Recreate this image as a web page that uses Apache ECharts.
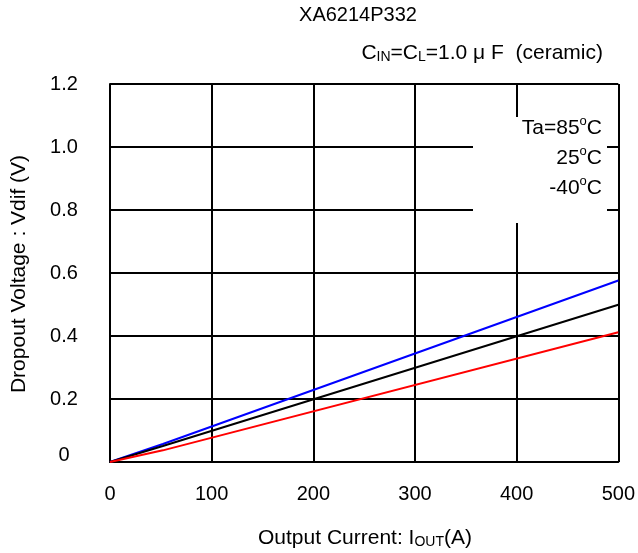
<!DOCTYPE html>
<html><head><meta charset="utf-8">
<script src="https://cdn.jsdelivr.net/npm/echarts@6/dist/echarts.min.js"></script>
<style>html,body{margin:0;padding:0;background:#fff}#c{width:638px;height:553px}</style>
</head><body><div id="c"></div>
<script>
const xTicks = [0, 100, 200, 300, 400, 500];
const yTicks = [0, 0.2, 0.4, 0.6, 0.8, 1.0, 1.2];
const currentPts = [0, 52, 500];
const v85 = [0, 0.057, 0.576];
const v25 = [0, 0.051, 0.499];
const vm40 = [0, 0.037, 0.412];
const legendRows = [['Ta=85', 'C'], ['25', 'C'], ['-40', 'C']];

const FONT = '"Liberation Sans", Arial, sans-serif';
const FS = 20;
const chart = echarts.init(document.getElementById('c'));
const mk = arr => currentPts.map((x, i) => [x, arr[i]]);

const rich = {
  n: {fontSize: 21, fontFamily: FONT, color: '#000', lineHeight: 24, verticalAlign: 'bottom'},
  s: {fontSize: 13, fontFamily: FONT, color: '#000', lineHeight: 24, verticalAlign: 'top', padding: [0, 0, 8, 0]},
  b: {fontSize: 14, fontFamily: FONT, color: '#000', lineHeight: 17, verticalAlign: 'bottom'}
};

const graphics = [
  {type: 'rect', shape: {x: 473, y: 117, width: 134, height: 106}, style: {fill: '#fff'}, z: 10},
  {type: 'text', x: 358, y: 15, z: 20, style: {text: 'XA6214P332', font: FS + 'px ' + FONT, fill: '#000', align: 'center', verticalAlign: 'middle'}},
  {type: 'text', x: 603, y: 52, z: 20, style: {text: '{n|C}{b|IN}{n|=C}{b|L}{n|=1.0 \u03bc F  (ceramic)}', rich: rich, align: 'right', verticalAlign: 'middle'}},
  {type: 'text', x: 365, y: 537, z: 20, style: {text: '{n|Output Current: I}{b|OUT}{n|(A)}', rich: rich, align: 'center', verticalAlign: 'middle'}},
  {type: 'text', x: 19, y: 274, rotation: Math.PI / 2, z: 20, style: {text: 'Dropout Voltage : Vdif (V)', font: (FS + 1) + 'px ' + FONT, fill: '#000', align: 'center', verticalAlign: 'middle'}}
];
legendRows.forEach((r, i) => {
  graphics.push({type: 'text', x: 602, y: 127 + i * 30, z: 20,
    style: {text: '{n|' + r[0] + '}{s|o}{n|' + r[1] + '}', rich: rich, align: 'right', verticalAlign: 'middle'}});
});

const gridColorsY = yTicks.map((v, i) => i === yTicks.length - 1 ? '#999' : '#000');
const gridColorsX = xTicks.map((v, i) => i === xTicks.length - 1 ? '#999' : '#000');

chart.setOption({
  animation: false,
  backgroundColor: '#fff',
  grid: {left: 110, right: 18, top: 84, bottom: 91},
  xAxis: {
    type: 'value', min: xTicks[0], max: xTicks[xTicks.length - 1], interval: 100,
    axisLine: {show: true, onZero: false, lineStyle: {color: '#000', width: 2}},
    axisTick: {show: false},
    axisLabel: {fontSize: FS, fontFamily: FONT, color: '#000', margin: 22},
    splitLine: {show: true, showMinLine: false, lineStyle: {color: gridColorsX, width: 2}}
  },
  yAxis: {
    type: 'value', min: yTicks[0], max: yTicks[yTicks.length - 1], interval: 0.2,
    axisLine: {show: true, onZero: false, lineStyle: {color: '#000', width: 2}},
    axisTick: {show: false},
    axisLabel: {fontSize: FS, fontFamily: FONT, color: '#000', margin: 46, align: 'center',
      formatter: v => v === 0 ? '{z|0}' : v.toFixed(1),
      rich: {z: {fontSize: FS, fontFamily: FONT, color: '#000', padding: [0, 0, 14, 0]}}},
    splitLine: {show: true, showMinLine: false, lineStyle: {color: gridColorsY, width: 2}}
  },
  graphic: graphics,
  series: [
    {name: '85', type: 'line', data: mk(v85), symbol: 'none', lineStyle: {color: '#0000ff', width: 2}, z: 5},
    {name: '25', type: 'line', data: mk(v25), symbol: 'none', lineStyle: {color: '#000', width: 2}, z: 5},
    {name: '-40', type: 'line', data: mk(vm40), symbol: 'none', lineStyle: {color: '#ff0000', width: 2}, z: 5}
  ]
});
</script></body></html>
